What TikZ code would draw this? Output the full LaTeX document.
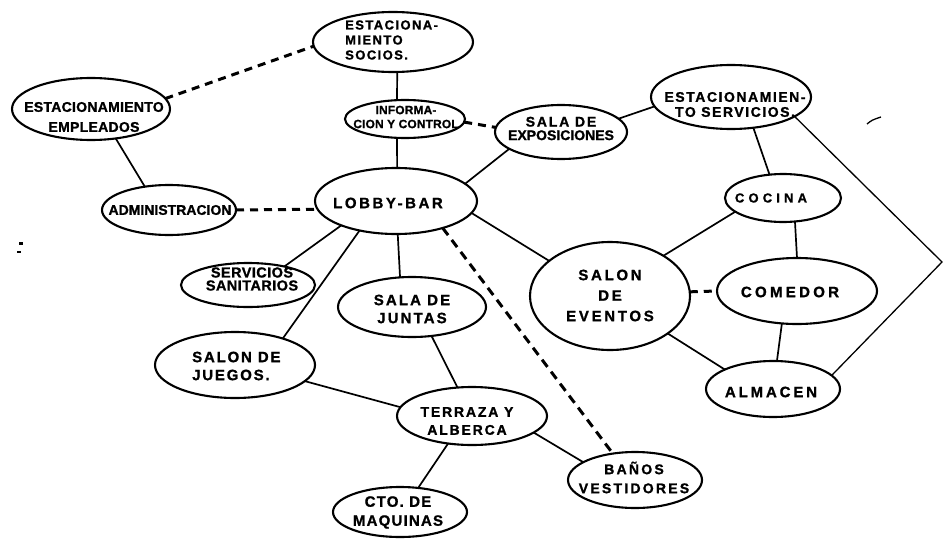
\documentclass[tikz,border=0pt]{standalone}
\usepackage{fontspec}
\setmainfont{Liberation Sans}
\usetikzlibrary{shapes.geometric}
\newcommand\fsl[3]{\fontsize{#1}{#2}\selectfont\bfseries\addfontfeatures{LetterSpace=#3,FakeBold=1.2}}
\newcommand\trk[2]{{\addfontfeature{LetterSpace=#1}#2}}
\tikzset{
  ell/.style={draw, ellipse, line width=2.1pt, inner sep=0pt, outer sep=0pt},
  lbl/.style={inner sep=0pt, align=center},
  conn/.style={line width=1.7pt},
  thinconn/.style={line width=1.3pt},
  dsh/.style={line width=3pt, dash pattern=on 8pt off 6pt},
}
\begin{document}
\begin{tikzpicture}[x=1pt,y=-1pt]
\useasboundingbox (0,0) rectangle (944,538);

% ellipses
\node[ell, minimum width=160pt, minimum height=60pt] (socios) at (393,42) {};
\node[ell, minimum width=158pt, minimum height=62pt] (empl) at (91,109) {};
\node[ell, minimum width=120pt, minimum height=38pt] (info) at (405,119) {};
\node[ell, minimum width=134pt, minimum height=50pt] (admin) at (169,210) {};
\node[ell, minimum width=162pt, minimum height=66pt] (lobby) at (396,201) {};
\node[ell, minimum width=132pt, minimum height=54pt] (expo) at (561,132) {};
\node[ell, minimum width=160pt, minimum height=64pt] (serv) at (731,97) {};
\node[ell, minimum width=116pt, minimum height=48pt] (cocina) at (783,198) {};
\node[ell, minimum width=160pt, minimum height=108pt] (eventos) at (610,296) {};
\node[ell, minimum width=160pt, minimum height=66pt] (comedor) at (797,291) {};
\node[ell, minimum width=134pt, minimum height=56pt] (almacen) at (773,389) {};
\node[ell, minimum width=134pt, minimum height=44pt] (sanit) at (248,285) {};
\node[ell, minimum width=148pt, minimum height=60pt] (juntas) at (412,307) {};
\node[ell, minimum width=160pt, minimum height=66pt] (juegos) at (235,365) {};
\node[ell, minimum width=150pt, minimum height=58pt] (terraza) at (472,416) {};
\node[ell, minimum width=134pt, minimum height=50pt] (maquinas) at (400,512) {};
\node[ell, minimum width=134pt, minimum height=56pt] (banos) at (635,480) {};

% labels
\node[lbl, align=left, anchor=west, font=\fsl{13}{15}{11}] (sociost) at (345,40) {ESTACIONA-\\MIENTO\\SOCIOS.};
\node[lbl, font=\fsl{14}{20}{2}] (emplt) at (94,117) {ESTACIONAMIENTO\\EMPLEADOS};
\node[lbl, font=\fsl{12}{14}{1}] (infot) at (406,117) {INFORMA-\\CION Y CONTROL};
\node[lbl, font=\fsl{14}{16}{0}] (admint) at (170,210) {ADMINISTRACION};
\node[lbl, font=\fsl{15}{18}{17}] (lobbyt) at (388,203) {LOBBY-BAR};
\node[lbl, font=\fsl{14}{13.5}{0}] (expot) at (561,128.5) {\trk{13}{SALA DE}\\EXPOSICIONES};
\node[lbl, font=\fsl{14}{15}{11}] (servt) at (735,104.5) {ESTACIONAMIEN-\\TO SERVICIOS.};
\node[lbl, font=\fsl{13}{16}{32}] (cocinat) at (771,198) {COCINA};
\node[lbl, font=\fsl{15}{20.5}{18}] (eventost) at (610,295.5) {SALON\\DE\\EVENTOS};
\node[lbl, font=\fsl{15}{18}{22}] (comedort) at (790,292) {COMEDOR};
\node[lbl, font=\fsl{15}{18}{19}] (almacent) at (771,392) {ALMACEN};
\node[lbl, font=\fsl{14.5}{13}{3}] (sanitt) at (252,279) {SERVICIOS\\SANITARIOS};
\node[lbl, font=\fsl{15}{18}{14}] (juntast) at (412,309) {SALA DE\\JUNTAS};
\node[lbl, align=left, anchor=west, font=\fsl{15}{18}{12}] (juegost) at (192,366) {SALON DE\\JUEGOS.};
\node[lbl, font=\fsl{14}{18}{13}] (terrazat) at (467,421) {TERRAZA Y\\ALBERCA};
\node[lbl, font=\fsl{15}{19}{8}] (maquinast) at (398,512.5) {CTO. DE\\MAQUINAS};
\node[lbl, font=\fsl{14}{19}{16}] (banost) at (634,477.5) {BAÑOS\\VESTIDORES};

% solid connectors
\draw[conn] (socios.-82) -- (info.113);
\draw[conn] (info.-113) -- (lobby.88);
\draw[conn] (empl.-50) -- (admin.136);
\draw[conn] (expo.13) -- (serv.187);
\draw[conn] (expo.198) -- (lobby.14);
\draw[conn] (serv.-54) -- (cocina.120);
\draw[conn] (cocina.196) -- (eventos.37);
\draw[conn] (cocina.-63) -- (comedor.90);
\draw[conn] (lobby.-9) -- (eventos.150);
\draw[conn] (comedor.-115) -- (almacen.82);
\draw[conn] (eventos.-33) -- (almacen.158);
\draw[conn] (terraza.-15) -- (banos.161);
\draw[conn] (lobby.204) -- (sanit.27);
\draw[conn] (lobby.219) -- (juegos.29);
\draw[conn] (lobby.-87) -- (juntas.112);
\draw[conn] (juntas.-56) -- (terraza.117);
\draw[conn] (juegos.-13) -- (terraza.173);
\draw[conn] (terraza.229) -- (maquinas.53);
\coordinate (rv) at (942,262);
\draw[thinconn] (serv.-17) -- (rv) -- (almacen.13);

% dashed connectors
\draw[dsh] (empl.8.6) -- (socios.183.6);
\draw[dsh] (admin.0) -- (lobby.186);
\draw[dsh] (info.-3) -- (expo.176);
\draw[dsh] (eventos.3) -- (comedor.180);
\draw[dsh, dash pattern=on 9pt off 6pt] (lobby.-30) -- (banos.130);

% stray marks of the original
\draw[line width=1.3pt] (867,124) .. controls (872,120) .. (881,117);
\fill (19,242) rectangle (23,245);
\fill (17,251) rectangle (21,253);
\end{tikzpicture}
\end{document}
